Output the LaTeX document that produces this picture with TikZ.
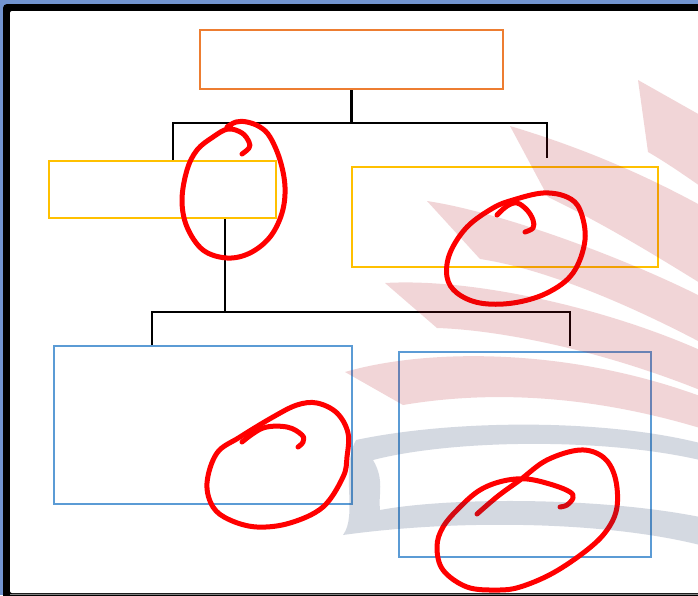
\documentclass[tikz,border=0pt]{standalone}
\definecolor{frameblue}{RGB}{114,148,208}
\definecolor{boxorange}{RGB}{237,125,49}
\definecolor{boxyellow}{RGB}{255,192,0}
\definecolor{boxblue}{RGB}{91,155,213}
\definecolor{penred}{RGB}{255,0,0}
\definecolor{fanred}{RGB}{175,10,20}
\definecolor{swooshgrey}{RGB}{31,56,100}
\begin{document}
\begin{tikzpicture}[x=1pt,y=-1pt,
	box/.style={draw,line width=2pt,inner sep=0pt},
	link/.style={line width=2.5pt},
	scribble/.style={penred,line width=5pt,line cap=round,line join=round},
	fan/.style={fill=fanred,fill opacity=.17},
	swoosh/.style={fill=swooshgrey,fill opacity=.19,even odd rule}]
	\useasboundingbox (0,0) rectangle (698,595);
	\clip (0,0) rectangle (698,595);
	\fill[frameblue] (0,0) rectangle (698,595);
	\fill[black,rounded corners=4pt] (3,4) rectangle (720,620);
	\fill[white,rounded corners=2pt] (10,11) rectangle (720,593);
	\fill[gray] (10,593.5) rectangle (698,595);

	\node[box,draw=boxorange,minimum width=303pt,minimum height=59pt] (head) at (351.5,59.5) {};
	\node[box,draw=boxyellow,minimum width=227pt,minimum height=57pt] (midl) at (162.5,189.5) {};
	\node[box,draw=boxyellow,minimum width=306pt,minimum height=100.5pt] (midr) at (505,216.75) {};
	\node[box,draw=boxblue,minimum width=298pt,minimum height=158pt] (lowl) at (203,425) {};
	\node[box,draw=boxblue,minimum width=252.5pt,minimum height=205.5pt] (lowr) at (524.75,454.25) {};

	\coordinate (busa) at (173,123);
	\coordinate (busb) at (547,123);
	\coordinate (enda) at (547,158);
	\draw[link] (head.south) -- (head.south |- busa);
	\draw[link] (busa |- midl.north) -- (busa) -- (busb) -- (enda);

	\coordinate (stem) at (225,312);
	\coordinate (busc) at (152,312);
	\coordinate (busd) at (570,312);
	\coordinate (endb) at (570,346);
	\draw[link] (stem |- midl.south) -- (stem);
	\draw[link] (busc |- lowl.north) -- (busc) -- (busd) -- (endb);

	\draw[scribble] plot[smooth,tension=.6] coordinates {(227,127) (236,122) (247,122) (260,127) (270,137) (280,160) (285,187) (282,213) (270,237) (250,253) (227,258) (203,250) (187,227) (182,200) (187,170) (197,150) (213,137) (228,129) (242,133) (249,142) (249,148) (242,154)};

	\draw[scribble] plot[smooth cycle,tension=.6] coordinates {(493,208) (513,200) (543,193) (567,197) (580,210) (585,240) (573,273) (547,293) (513,303) (480,303) (457,293) (447,277) (450,253) (467,227)};
	\draw[scribble] plot[smooth,tension=.6] coordinates {(497,215) (507,206) (517,203) (527,210) (533,220) (533,228) (525,232)};

	\draw[scribble] plot[smooth cycle,tension=.6] coordinates {(317,403) (337,413) (348,433) (347,457) (343,477) (323,507) (290,523) (257,527) (230,520) (213,507) (207,483) (217,453) (240,437) (273,417) (297,405)};
	\draw[scribble] plot[smooth,tension=.6] coordinates {(242,442) (263,428) (287,427) (302,435) (303,442) (298,447)};

	\draw[scribble] plot[smooth,tension=.6] coordinates {(477,514) (498,496) (520,480) (547,460) (580,450) (603,457) (615,477) (617,507) (607,530) (587,550) (553,573) (520,587) (497,590) (467,587) (443,570) (437,547) (443,527) (460,507) (480,490) (503,481) (527,479) (553,485) (570,492) (573,498) (567,505) (560,507)};

	\path[fan] (638,80) -- (700,115) -- (700,186) .. controls (680,172) and (662,160) .. (648,152) -- cycle;
	\path[fan] (510,126) .. controls (590,150) and (650,178) .. (700,205) -- (700,283) .. controls (650,252) and (600,222) .. (548,197) -- cycle;
	\path[fan] (427,201) .. controls (500,212) and (620,256) .. (700,296) -- (700,342) .. controls (620,300) and (540,268) .. (480,259) -- cycle;
	\path[fan] (385,283) .. controls (470,278) and (600,306) .. (700,350) -- (700,390) .. controls (600,350) and (500,330) .. (437,328) -- cycle;
	\path[fan] (345,372) .. controls (420,350) and (560,345) .. (700,396) -- (700,428) .. controls (580,392) and (480,392) .. (403,405) -- cycle;

	\path[swoosh] (356,440) .. controls (450,420) and (600,418) .. (700,443) -- (700,545)
		.. controls (600,520) and (450,520) .. (343,535)
		.. controls (358,515) and (340,470) .. (356,440) -- cycle
		(373,460) .. controls (450,440) and (600,437) .. (700,460) -- (700,517)
		.. controls (600,497) and (450,497) .. (380,510)
		.. controls (378,495) and (385,480) .. (373,460) -- cycle;
\end{tikzpicture}
\end{document}
